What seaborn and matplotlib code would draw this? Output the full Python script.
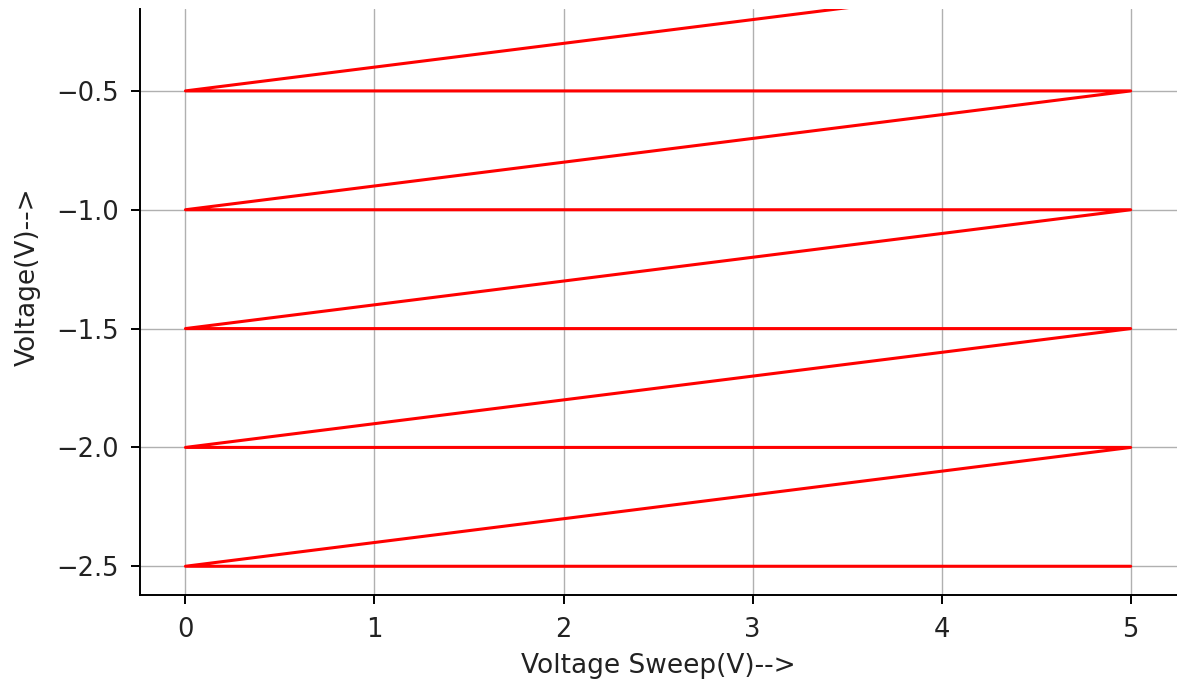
import matplotlib
matplotlib.use("Agg")
import matplotlib.pyplot as plt
import seaborn as sns
import pandas as pd

# Sweep data: the line zigzags between 0 V and 5 V
sweep_x = [5, 0, 5, 0, 5, 0, 5, 0, 5, 0, 5]
voltage_y = [-2.5, -2.5, -2.0, -2.0, -1.5, -1.5, -1.0, -1.0, -0.5, -0.5, 0.0]

df = pd.DataFrame({"sweep": sweep_x, "voltage": voltage_y})

sns.set_style("ticks")
plt.rcParams['font.family'] = ['DejaVu Sans']

fig = plt.figure(figsize=(11.77, 6.85), dpi=100)
ax = fig.add_axes([0.119, 0.131, 0.881, 0.856])

sns.lineplot(data=df, x="sweep", y="voltage", sort=False, color="red",
             linewidth=2.2, estimator=None, ax=ax)

ax.set_xlim(-0.24, 5.245)
ax.set_ylim(-2.622, -0.155)
ax.set_xticks([0, 1, 2, 3, 4, 5])
ax.set_yticks([-2.5, -2.0, -1.5, -1.0, -0.5])
ax.set_yticklabels(["\u22122.5", "\u22122.0", "\u22121.5", "\u22121.0", "\u22120.5"])
ax.grid(True, color="#b0b0b0", linewidth=1.0)
ax.set_axisbelow(True)

ax.tick_params(axis="both", labelsize=18.5, length=6.5, width=1.4, color="black",
               labelcolor="#222222")
ax.tick_params(axis="x", pad=9)
ax.tick_params(axis="y", pad=9)
for s in ["top", "right"]:
    ax.spines[s].set_visible(False)
for s in ["left", "bottom"]:
    ax.spines[s].set_color("black")
    ax.spines[s].set_linewidth(1.4)

ax.set_xlabel("Voltage Sweep(V)-->", fontsize=19, color="#222222")
ax.set_ylabel("Voltage(V)-->", fontsize=19, color="#222222")
ax.xaxis.set_label_coords(0.5, -0.098)
ax.yaxis.set_label_coords(-0.096, 0.543)

fig.savefig("out.png", dpi=100)
